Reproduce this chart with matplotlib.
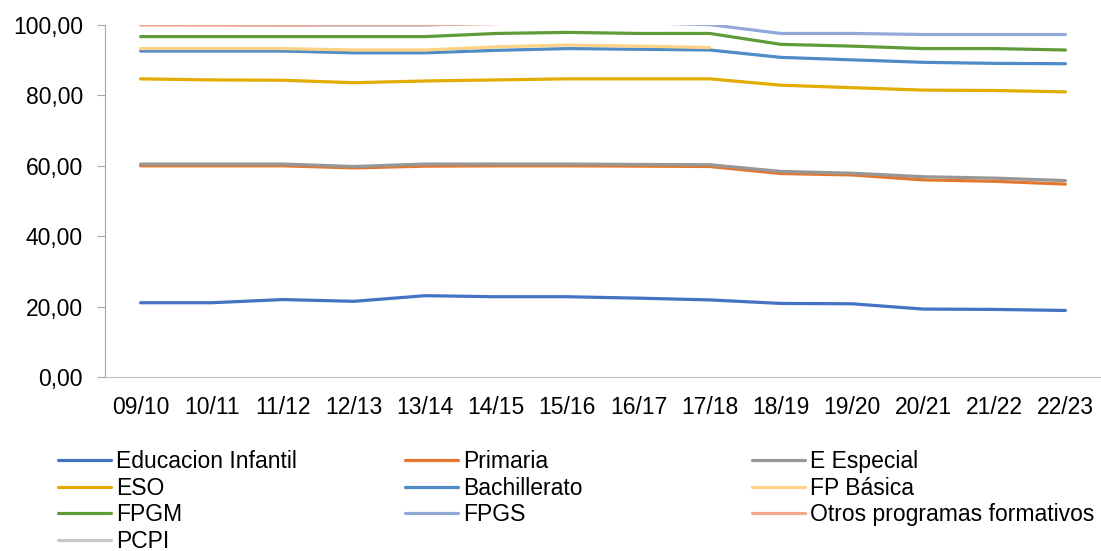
import numpy as np
import matplotlib
matplotlib.use('Agg')
import matplotlib.pyplot as plt
from matplotlib.ticker import FuncFormatter

nan = np.nan

years = ['09/10', '10/11', '11/12', '12/13', '13/14', '14/15', '15/16',
         '16/17', '17/18', '18/19', '19/20', '20/21', '21/22', '22/23']

infantil = [21.1, 21.1, 22.0, 21.5, 23.1, 22.8, 22.8, 22.4, 21.9, 20.9, 20.8, 19.3, 19.2, 18.9]
primaria = [60.0, 60.0, 60.0, 59.4, 59.9, 60.0, 60.0, 59.9, 59.8, 57.8, 57.4, 56.0, 55.6, 54.8]
especial = [60.5, 60.5, 60.5, 59.8, 60.5, 60.5, 60.5, 60.4, 60.3, 58.4, 57.9, 56.9, 56.5, 55.8]
eso = [84.7, 84.4, 84.3, 83.6, 84.1, 84.4, 84.7, 84.7, 84.7, 82.9, 82.2, 81.5, 81.4, 81.0]
bachillerato = [92.6, 92.6, 92.6, 92.1, 92.1, 92.8, 93.3, 93.1, 92.9, 90.8, 90.1, 89.4, 89.1, 89.0]
fp_basica = [93.3, 93.3, 93.3, 92.9, 92.9, 93.8, 94.3, 94.0, 93.6, nan, nan, nan, nan, nan]
fpgm = [96.7, 96.7, 96.7, 96.7, 96.7, 97.6, 97.9, 97.6, 97.6, 94.5, 94.0, 93.3, 93.3, 92.9]
fpgs = [100.2, 100.1, 100.0, 100.0, 100.0, 100.6, 100.8, 100.7, 100.1, 97.6, 97.6, 97.3, 97.3, 97.3]
otros = [100.0, 100.0, 100.0, 100.1, 100.1, 100.4, 100.8, 100.9, 100.9, 100.9, 100.9, 100.9, 100.9, 100.9]
pcpi = [nan] * 14

series = [
    ('Educacion Infantil', infantil, '#4472C4'),
    ('Primaria', primaria, '#E3772F'),
    ('E Especial', especial, '#979797'),
    ('ESO', eso, '#E3AC00'),
    ('Bachillerato', bachillerato, '#4F8BC6'),
    ('FP Básica', fp_basica, '#FFD285'),
    ('FPGM', fpgm, '#5E9C3A'),
    ('FPGS', fpgs, '#93A8DA'),
    ('Otros programas formativos', otros, '#F2A88C'),
    ('PCPI', pcpi, '#C8C8C8'),
]

plt.rcParams['font.family'] = ['Liberation Sans', 'DejaVu Sans']

fig = plt.figure(figsize=(11.01, 5.51), dpi=100)
ax = fig.add_axes([105 / 1101, 1 - 377 / 551, 1 - 105 / 1101, 352 / 551])

x = np.arange(len(years))
handles = []
for name, vals, col in series:
    h, = ax.plot(x, vals, color=col, lw=2.3, label=name, solid_capstyle='round')
    handles.append(h)

ax.set_xlim(-0.5, len(years) - 0.5)
ax.set_ylim(0, 100)
ax.set_yticks(range(0, 101, 20))
ax.yaxis.set_major_formatter(FuncFormatter(lambda v, p: '{:.2f}'.format(v).replace('.', ',')))
ax.set_xticks(x)
ax.set_xticklabels(years)

for s in ['top', 'right']:
    ax.spines[s].set_visible(False)
ax.spines['left'].set_color('#A6A6A6')
ax.spines['bottom'].set_color('#BFBFBF')

ax.tick_params(axis='y', length=6, color='#A6A6A6', pad=10, labelsize=16.5)
ax.tick_params(axis='x', length=0, pad=14, labelsize=16.5)

# legend: Excel fills row by row with equal column widths -> one legend per column
col_x = [58, 405, 752]
for c in range(3):
    hs = handles[c::3]
    fig.legend(handles=hs, labels=[h.get_label() for h in hs],
               loc='upper left', bbox_to_anchor=(col_x[c] / 1101, 1 - 450 / 551),
               frameon=False, fontsize=16.5, borderpad=0, borderaxespad=0,
               handlelength=2.3, handletextpad=0.22, labelspacing=0.16)

fig.savefig('out.png', dpi=100)
